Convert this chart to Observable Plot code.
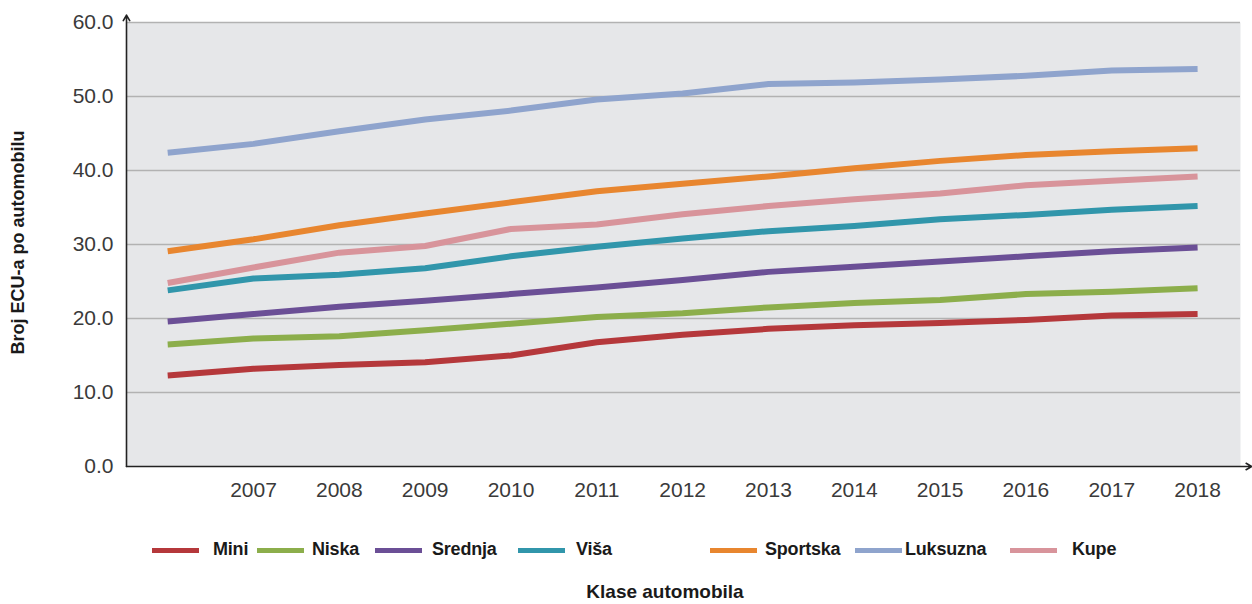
<!DOCTYPE html>
<html>
<head>
<meta charset="utf-8">
<script src="https://cdn.jsdelivr.net/npm/d3@7"></script>
<script src="https://cdn.jsdelivr.net/npm/@observablehq/plot@0.6"></script>
<style>
  html, body { margin: 0; padding: 0; background: #fff; }
  #wrap { position: relative; width: 1252px; height: 604px; font-family: "Liberation Sans", Arial, Helvetica, sans-serif; }
  #chart svg { display: block; }
  .lt { font-weight: bold; font-size: 18px; color: #1a1a1a; white-space: nowrap; letter-spacing: -0.2px; }
  #xtitle { position: absolute; top: 581px; left: 0; width: 1252px; padding-left: 78px; box-sizing: border-box; text-align: center; font-weight: bold; font-size: 19px; color: #1a1a1a; }
</style>
</head>
<body>
<div id="wrap">
  <div id="chart"></div>
  <div id="legend"></div>
  <div id="xtitle">Klase automobila</div>
</div>
<script>
const years = [2006, 2007, 2008, 2009, 2010, 2011, 2012, 2013, 2014, 2015, 2016, 2017, 2018];
const tickYears = [2007, 2008, 2009, 2010, 2011, 2012, 2013, 2014, 2015, 2016, 2017, 2018];
const yTicks = [0, 10, 20, 30, 40, 50, 60];

const mini     = [12.3, 13.2, 13.7, 14.1, 15.0, 16.8, 17.8, 18.6, 19.1, 19.4, 19.8, 20.4, 20.6];
const niska    = [16.5, 17.3, 17.6, 18.4, 19.3, 20.2, 20.7, 21.5, 22.1, 22.5, 23.3, 23.6, 24.1];
const srednja  = [19.6, 20.6, 21.6, 22.4, 23.3, 24.2, 25.2, 26.3, 27.0, 27.7, 28.4, 29.1, 29.6];
const visa     = [23.8, 25.4, 25.9, 26.8, 28.4, 29.7, 30.8, 31.8, 32.5, 33.4, 34.0, 34.7, 35.2];
const sportska = [29.1, 30.7, 32.6, 34.2, 35.7, 37.2, 38.2, 39.2, 40.3, 41.3, 42.1, 42.6, 43.0];
const luksuzna = [42.4, 43.6, 45.3, 46.9, 48.1, 49.6, 50.4, 51.7, 51.9, 52.3, 52.8, 53.5, 53.7];
const kupe     = [24.8, 26.9, 28.9, 29.8, 32.1, 32.7, 34.1, 35.2, 36.1, 36.9, 38.0, 38.6, 39.2];

const seriesNames  = ["Mini", "Niska", "Srednja", "Viša", "Sportska", "Luksuzna", "Kupe"];
const seriesValues = [mini, niska, srednja, visa, sportska, luksuzna, kupe];
const seriesColors = ["#b5383b", "#8cae4b", "#6b4f96", "#3196ab", "#e8862f", "#8fa4cd", "#d8949b"];

const xDomain = [2005.52, 2018.5];
const yDomain = [0, 60];

const rows = seriesNames.flatMap((name, i) =>
  years.map((year, j) => ({ series: name, year, value: seriesValues[i][j] }))
);

const chart = Plot.plot({
  width: 1252,
  height: 520,
  marginLeft: 126,
  marginRight: 12,
  marginTop: 22,
  marginBottom: 54,
  style: { fontFamily: "'Liberation Sans', Arial, Helvetica, sans-serif", background: "transparent" },
  x: { type: "linear", domain: xDomain },
  y: { domain: yDomain },
  color: { domain: seriesNames, range: seriesColors },
  marks: [
    Plot.frame({ fill: "#e6e7e9", stroke: null }),
    Plot.ruleY(yTicks.filter(d => d > 0), { stroke: "#b2b2b2", strokeWidth: 1.6 }),
    Plot.axisX({ ticks: tickYears, tickFormat: d => String(d), tickSize: 0, tickPadding: 16, fontSize: 21, fill: "#3a3a3a", label: null }),
    Plot.axisY({ ticks: yTicks, tickFormat: d => d.toFixed(1), tickSize: 0, tickPadding: 13, fontSize: 21, fill: "#3a3a3a", label: null }),
    Plot.lineY(rows, { x: "year", y: "value", z: "series", stroke: "series", strokeWidth: 6, strokeLinejoin: "round", strokeLinecap: "butt" }),
    Plot.arrow([0], { x1: xDomain[0], x2: xDomain[1] + 0.13, y1: yDomain[0], y2: yDomain[0], stroke: "#222", strokeWidth: 1.6, headLength: 6 }),
    Plot.arrow([0], { x1: xDomain[0], x2: xDomain[0], y1: yDomain[0], y2: yDomain[1] + 1.0, stroke: "#222", strokeWidth: 1.6, headLength: 6 }),
    Plot.text(["Broj ECU-a po automobilu"], { frameAnchor: "left", textAnchor: "middle", dx: -108, dy: -2, rotate: -90, fontSize: 18, fontWeight: "bold", fill: "#1a1a1a" })
  ]
});
document.getElementById("chart").appendChild(chart);

// legend
const legendSwatchX = [152, 257, 375, 518, 710, 855, 1010];
const legendTextX   = [213, 312, 432, 576, 765, 905, 1072];
const legend = document.getElementById("legend");
seriesNames.forEach((name, i) => {
  const sw = document.createElement("div");
  sw.style.cssText = `position:absolute;top:548px;left:${legendSwatchX[i]}px;width:47px;height:5px;background:${seriesColors[i]}`;
  legend.appendChild(sw);
  const t = document.createElement("div");
  t.className = "lt";
  t.style.cssText = `position:absolute;top:539px;left:${legendTextX[i]}px;`;
  t.textContent = name;
  legend.appendChild(t);
});
</script>
</body>
</html>
